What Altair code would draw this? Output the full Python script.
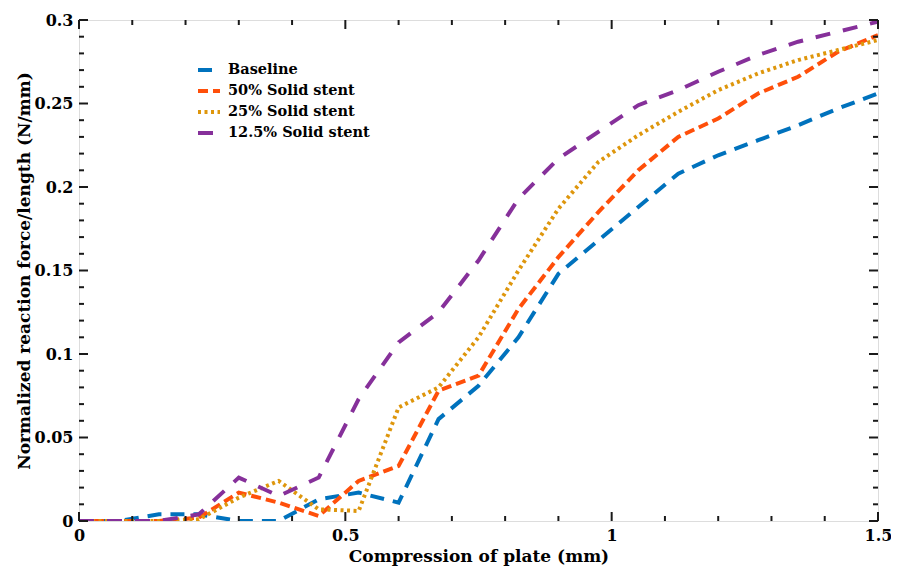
import altair as alt
import pandas as pd

# ---- data ----
x_vals = [0, 0.075, 0.15, 0.225, 0.3, 0.375, 0.45, 0.525, 0.6, 0.675, 0.75,
          0.825, 0.9, 0.975, 1.05, 1.125, 1.2, 1.275, 1.35, 1.425, 1.5]
baseline = [0, 0, 0.004, 0.004, 0, 0, 0.013, 0.017, 0.011, 0.061, 0.081,
            0.11, 0.148, 0.168, 0.188, 0.208, 0.219, 0.228, 0.237, 0.247, 0.256]
solid50 = [0, 0, 0, 0.002, 0.017, 0.011, 0.003, 0.024, 0.033, 0.078, 0.087,
           0.127, 0.158, 0.185, 0.21, 0.23, 0.241, 0.256, 0.266, 0.281, 0.291]
solid25 = [0, 0, 0, 0.001, 0.014, 0.024, 0.007, 0.006, 0.068, 0.08, 0.11,
           0.15, 0.187, 0.215, 0.231, 0.245, 0.258, 0.268, 0.276, 0.282, 0.288]
solid125 = [0, 0, 0, 0.004, 0.026, 0.015, 0.026, 0.073, 0.107, 0.125, 0.156,
            0.193, 0.217, 0.233, 0.249, 0.258, 0.269, 0.279, 0.287, 0.293, 0.299]

series_names = ["Baseline", "50% Solid stent", "25% Solid stent", "12.5% Solid stent"]
series_values = [baseline, solid50, solid25, solid125]

x_major = [0, 0.5, 1, 1.5]
x_minor = [0.1, 0.2, 0.3, 0.4, 0.6, 0.7, 0.8, 0.9, 1.1, 1.2, 1.3, 1.4]
y_major = [0, 0.05, 0.1, 0.15, 0.2, 0.25, 0.3]
y_minor = [0.01, 0.02, 0.03, 0.04, 0.06, 0.07, 0.08, 0.09,
           0.11, 0.12, 0.13, 0.14, 0.16, 0.17, 0.18, 0.19,
           0.21, 0.22, 0.23, 0.24, 0.26, 0.27, 0.28, 0.29]

# ---- styles ----
colors = ["#0072BD", "#FF4F0A", "#DE960C", "#86309A"]
dashes = [[14, 9], [10, 5], [3, 3.5], [15, 13]]
FONT = "DejaVu Serif"
W, H = 799, 501
MAJ, MIN = 9, 5
AX = "#1a1a1a"

rows = []
for name, vals in zip(series_names, series_values):
    for xv, yv in zip(x_vals, vals):
        rows.append({"x": xv, "y": yv, "series": name})
df = pd.DataFrame(rows)

xscale = alt.Scale(domain=[0, 1.5], nice=False, zero=False)
yscale = alt.Scale(domain=[0, 0.3], nice=False, zero=False)

xaxis = alt.Axis(values=x_major, format="~g", tickSize=0, domain=False, grid=False,
                 labelFlush=False, labelOverlap=False,
                 labelFont=FONT, labelFontSize=16, labelFontWeight="bold",
                 labelColor="#000", labelPadding=6,
                 title="Compression of plate (mm)", titleFont=FONT,
                 titleFontSize=17, titleFontWeight="bold", titleColor="#000",
                 titlePadding=5)
yaxis = alt.Axis(values=y_major, format="~g", tickSize=0, domain=False, grid=False,
                 labelFlush=False, labelOverlap=False,
                 labelFont=FONT, labelFontSize=16, labelFontWeight="bold",
                 labelColor="#000", labelPadding=6,
                 title="Normalized reaction force/length (N/mm)", titleFont=FONT,
                 titleFontSize=17, titleFontWeight="bold", titleColor="#000",
                 titlePadding=1)

legend = alt.Legend(
    title=None, orient="none", legendX=117, legendY=37,
    symbolType="stroke", symbolSize=484, symbolStrokeWidth=4,
    labelFont=FONT, labelFontSize=14.5, labelFontWeight="bold", labelColor="#000",
    labelOffset=6, rowPadding=0, symbolLimit=0,
)

lines = alt.Chart(df).mark_line(strokeWidth=4, strokeCap="butt", clip=True).encode(
    x=alt.X("x:Q", scale=xscale, axis=xaxis, title="Compression of plate (mm)"),
    y=alt.Y("y:Q", scale=yscale, axis=yaxis, title="Normalized reaction force/length (N/mm)"),
    color=alt.Color("series:N", scale=alt.Scale(domain=series_names, range=colors), legend=legend),
    strokeDash=alt.StrokeDash("series:N", scale=alt.Scale(domain=series_names, range=dashes), legend=legend),
    order=alt.Order("idx:Q"),
).transform_calculate(
    idx="indexof(['Baseline','50% Solid stent','25% Solid stent','12.5% Solid stent'], datum.series)"
)

def xticks(vals, length):
    d = pd.DataFrame({"x": vals})
    base = alt.Chart(d).mark_rule(color=AX, strokeWidth=2)
    enc_x = alt.X("x:Q", scale=xscale, axis=xaxis, title="Compression of plate (mm)")
    bottom = base.encode(x=enc_x, y=alt.value(H), y2=alt.value(H - length))
    top = base.encode(x=enc_x, y=alt.value(0), y2=alt.value(length))
    return [bottom, top]

def yticks(vals, length):
    d = pd.DataFrame({"y": vals})
    base = alt.Chart(d).mark_rule(color=AX, strokeWidth=2)
    enc_y = alt.Y("y:Q", scale=yscale, axis=yaxis, title="Normalized reaction force/length (N/mm)")
    left = base.encode(y=enc_y, x=alt.value(0), x2=alt.value(length))
    right = base.encode(y=enc_y, x=alt.value(W), x2=alt.value(W - length))
    return [left, right]

layers = [lines] + xticks(x_major, MAJ) + xticks(x_minor, MIN) + yticks(y_major, MAJ) + yticks(y_minor, MIN)

chart = alt.layer(*layers).properties(
    width=W, height=H,
    autosize=alt.AutoSizeParams(type="none"),
    padding={"left": 71, "top": 12, "right": 13, "bottom": 46},
).configure_view(stroke=AX, strokeWidth=2.5).configure(background="white")

chart.save("out.html", embed_options={"renderer": "svg", "actions": False})
